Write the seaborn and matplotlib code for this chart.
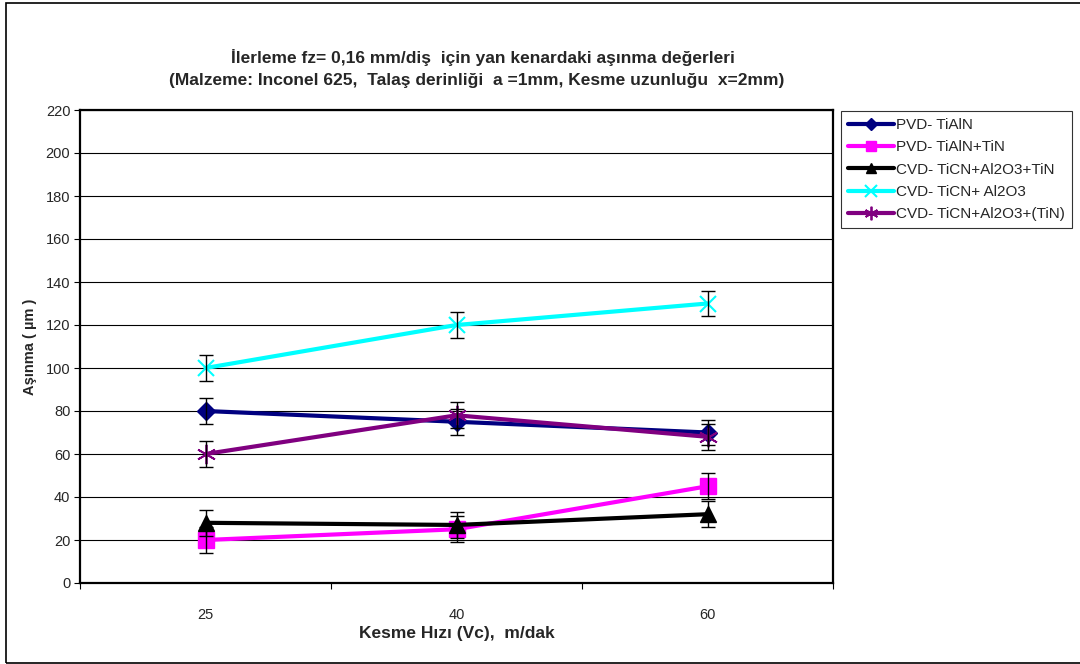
import matplotlib
matplotlib.use("Agg")
import matplotlib.pyplot as plt
import seaborn as sns
import pandas as pd
from matplotlib.patches import Rectangle

sns.set_theme(style="white")
plt.rcParams["font.family"] = ["Liberation Sans", "DejaVu Sans"]

# Cutting speeds (categories on the x axis)
speeds = ["25", "40", "60"]

# Flank wear values (µm) for each coating
series_names = [
    "PVD- TiAlN",
    "PVD- TiAlN+TiN",
    "CVD- TiCN+Al2O3+TiN",
    "CVD- TiCN+ Al2O3",
    "CVD- TiCN+Al2O3+(TiN)",
]
pvd_tialn = [80, 75, 70]
pvd_tialn_tin = [20, 25, 45]
cvd_ticn_al2o3_tin = [28, 27, 32]
cvd_ticn_al2o3 = [100, 120, 130]
cvd_ticn_al2o3_ptin = [60, 78, 68]
error_half = 6  # ± error bar size (µm)

values = [pvd_tialn, pvd_tialn_tin, cvd_ticn_al2o3_tin, cvd_ticn_al2o3, cvd_ticn_al2o3_ptin]
colors = ["#000080", "#FF00FF", "#000000", "#00FFFF", "#800080"]
markers = ["D", "s", "^", "x", (6, 2, 0)]
msizes = [9, 11, 11, 12, 14]
mews = [1, 1, 1, 1.5, 1.3]

rows = []
for name, vals in zip(series_names, values):
    for i, (s, v) in enumerate(zip(speeds, vals)):
        rows.append({"pos": i, "speed": s, "wear": v, "coating": name})
df = pd.DataFrame(rows)

fig = plt.figure(figsize=(10.8, 6.64), dpi=100)
ax = fig.add_axes([80 / 1080, 1 - 583 / 664, 753 / 1080, 473 / 664])

for name, col, mk, ms, mew in zip(series_names, colors, markers, msizes, mews):
    sub = df[df["coating"] == name]
    sns.lineplot(data=sub, x="pos", y="wear", ax=ax, color=col, linewidth=3.0,
                 marker=mk, markersize=ms, markeredgecolor=col, markeredgewidth=mew,
                 label=name, legend=False, zorder=3)
    ax.errorbar(sub["pos"], sub["wear"], yerr=error_half, fmt="none",
                ecolor="black", elinewidth=1.0, capsize=5, capthick=1.0, zorder=4)

ax.set_xlim(-0.5, 2.5)
ax.set_ylim(0, 220)
ax.set_yticks(range(0, 221, 20))
ax.set_xticks(range(len(speeds)))
ax.set_xticklabels(speeds)
ax.set_xticks([-0.5, 0.5, 1.5, 2.5], minor=True)
ax.tick_params(axis="x", which="major", length=0, pad=18, labelsize=10.5)
ax.tick_params(axis="x", which="minor", length=4, width=0.8, direction="out", color="black", bottom=True)
ax.tick_params(axis="y", which="major", length=4, width=0.8, direction="out", color="black",
               left=True, labelsize=10.5, pad=3)
ax.grid(axis="y", color="black", linewidth=0.8)
ax.set_axisbelow(True)
for side in ["left", "bottom", "right", "top"]:
    ax.spines[side].set_color("black")
    ax.spines[side].set_linewidth(1.6)

ax.set_xlabel("Kesme Hızı (Vc),  m/dak", fontsize=12.5, fontweight="bold", labelpad=3)
ax.set_ylabel("Aşınma ( µm )", fontsize=10.5, fontweight="bold", labelpad=6)

fig.text(483 / 1080, 1 - 57 / 664, "İlerleme fz= 0,16 mm/diş  için yan kenardaki aşınma değerleri",
         ha="center", va="center", fontsize=12.5, fontweight="bold")
fig.text(477 / 1080, 1 - 80 / 664, "(Malzeme: Inconel 625,  Talaş derinliği  a =1mm, Kesme uzunluğu  x=2mm)",
         ha="center", va="center", fontsize=12.5, fontweight="bold")

handles, labels = ax.get_legend_handles_labels()
leg = fig.legend(handles, labels, loc="upper left", bbox_to_anchor=(841 / 1080, 1 - 111 / 664),
                 frameon=True, fancybox=False, fontsize=11, handlelength=3.0, handletextpad=0.15,
                 borderpad=0.45, labelspacing=0.55, borderaxespad=0, markerscale=0.7)
leg.get_frame().set_edgecolor("black")
leg.get_frame().set_linewidth(0.8)

# Outer chart border
fig.patches.append(Rectangle((6 / 1080, 1 / 664), 1.2, 660 / 664, transform=fig.transFigure,
                             fill=False, edgecolor="black", linewidth=1.2))

fig.savefig("out.png", dpi=100)
